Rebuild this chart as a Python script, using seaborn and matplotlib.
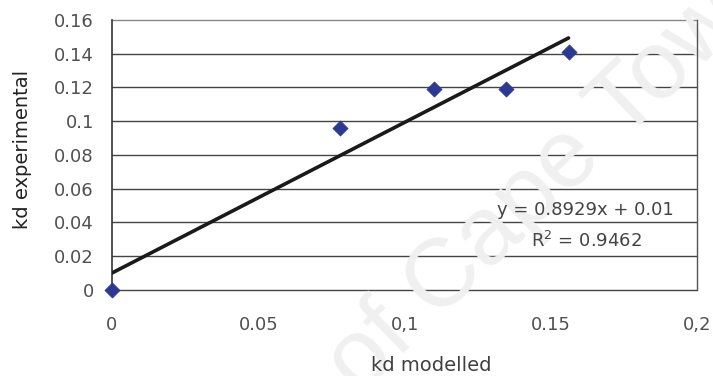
import matplotlib
matplotlib.use("Agg")
import matplotlib.pyplot as plt
import seaborn as sns
import pandas as pd

# Measured vs. modelled distribution coefficients
kd_modelled = [0.0, 0.078, 0.110, 0.1345, 0.156]
kd_experimental = [0.0, 0.096, 0.119, 0.119, 0.141]

# Linear fit reported on the chart
slope = 0.8929
intercept = 0.01
r_squared = 0.9462
fit_x = [0.0, 0.156]

x_ticks = [0.0, 0.05, 0.1, 0.15, 0.2]
x_tick_labels = ["0", "0.05", "0,1", "0.15", "0,2"]
y_ticks = [0.0, 0.02, 0.04, 0.06, 0.08, 0.1, 0.12, 0.14, 0.16]
y_tick_labels = ["0", "0.02", "0.04", "0.06", "0.08", "0.1", "0.12", "0.14", "0.16"]

sns.set_theme(style="white")
plt.rcParams["font.family"] = ["DejaVu Sans"]

fig = plt.figure(figsize=(7.13, 3.76), dpi=100)
ax = fig.add_axes([0.157, 0.229, 0.821, 0.718])

df = pd.DataFrame({"kd modelled": kd_modelled, "kd experimental": kd_experimental})
fit_df = pd.DataFrame({"x": fit_x, "y": [slope * v + intercept for v in fit_x]})

# Horizontal grid at every y tick (drawn unclipped so the 0 line shows in full)
for yv in y_ticks:
    ax.axhline(yv, color="#444444" if yv < 0.16 else "#888888", linewidth=1.0,
               zorder=1, clip_on=False)

# Faint repository watermark: above the grid, below the data and labels
ax.text(0.778, 0.54, "of Cape Town", transform=fig.transFigure, fontsize=70,
        family="Liberation Sans", color="#f0f0f0", rotation=44,
        ha="center", va="center", zorder=2, clip_on=False)

sns.lineplot(data=fit_df, x="x", y="y", ax=ax, color="#1a1a1a", linewidth=2.6, zorder=3)
sns.scatterplot(data=df, x="kd modelled", y="kd experimental", ax=ax, marker="D",
                s=58, color="#2b3990", edgecolor="#2b3990", zorder=4, clip_on=False)

ax.set_xlim(0, 0.2)
ax.set_ylim(0, 0.16)
ax.set_xticks(x_ticks)
ax.set_xticklabels(x_tick_labels)
ax.set_yticks(y_ticks)
ax.set_yticklabels(y_tick_labels)
ax.tick_params(axis="x", length=0, pad=19, labelsize=13, labelcolor="#505050")
ax.tick_params(axis="y", length=0, pad=13, labelsize=13, labelcolor="#505050")
ax.grid(False)
ax.xaxis.set_zorder(6)
ax.yaxis.set_zorder(6)

for side in ("top", "bottom"):
    ax.spines[side].set_visible(False)
ax.spines["left"].set_color("#333333")
ax.spines["left"].set_linewidth(1.2)
ax.spines["right"].set_color("#555555")
ax.spines["right"].set_linewidth(1.0)

ax.set_xlabel("kd modelled", fontsize=14, color="#404040")
ax.xaxis.set_label_coords(0.546, -0.245)
ax.set_ylabel("kd experimental", fontsize=14, color="#222222")
ax.yaxis.set_label_coords(-0.137, 0.52)

ax.text(0.1616, 0.0474, f"y = {slope}x + {intercept}", fontsize=13, color="#444444",
        ha="center", va="center", zorder=5)
ax.text(0.1620, 0.0290, f"R$^2$ = {r_squared}", fontsize=13, color="#444444",
        ha="center", va="center", zorder=5)

fig.savefig("out.png", dpi=100, facecolor="white")
